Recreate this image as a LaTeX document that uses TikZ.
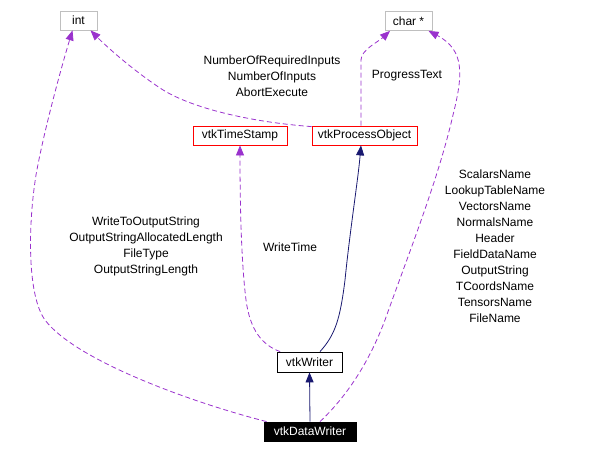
\documentclass[tikz,border=0pt]{standalone}
\usepackage{fontspec}
\setmainfont{Liberation Sans}
\usetikzlibrary{arrows.meta}
\definecolor{edgepurple}{HTML}{9A32CD}
\definecolor{edgenavy}{HTML}{191970}
\definecolor{boxgray}{HTML}{BFBFBF}
\tikzset{
  cls/.style={draw, line width=0.8pt, inner sep=0pt, minimum height=19pt, font=\fontsize{12}{14}\selectfont},
  graybox/.style={cls, draw=boxgray},
  redbox/.style={cls, draw=red},
  blackbox/.style={cls, draw=black},
  focusbox/.style={cls, draw=black, fill=black, text=white},
  usage/.style={draw=edgepurple, line width=0.8pt, dash pattern=on 5pt off 3pt, -{Triangle[length=10pt,width=8pt,fill=edgepurple]}},
  inherit/.style={draw=edgenavy, line width=0.8pt, -{Triangle[length=10pt,width=8pt,fill=edgenavy]}},
  lbl/.style={inner sep=0pt, align=center, font=\fontsize{12}{16}\selectfont}
}
\begin{document}
\begin{tikzpicture}[x=1pt,y=-1pt]
\useasboundingbox (0,0) rectangle (589,453);
% nodes
\node[graybox, minimum width=37pt] (int) at (78.5,20.5) {int};
\node[graybox, minimum width=47pt] (char) at (408.5,21) {char *};
\node[redbox, minimum width=94pt] (ts) at (240,135.5) {vtkTimeStamp};
\node[redbox, minimum width=105pt] (po) at (364.5,135.5) {vtkProcessObject};
\node[blackbox, minimum width=65pt, minimum height=20pt] (w) at (309.5,362) {vtkWriter};
\node[focusbox, minimum width=92pt] (dw) at (310,431.5) {vtkDataWriter};
% edges
\draw[inherit] (dw.north) -- (w.south);
\draw[inherit] ([xshift=10.5pt]w.north) .. controls (335,335) and (340,320) .. (345,280)
   .. controls (350,230) and (358,180) .. ([xshift=-3.5pt]po.south);
\draw[usage] ([xshift=3.5pt]w.north west) .. controls (262,345) and (250,330) .. (246,300)
   .. controls (241,260) and (240,200) .. (ts.south);
\draw[usage] ([xshift=3pt]dw.north west) .. controls (190,402) and (75,360) .. (45,320)
   .. controls (27,295) and (28,225) .. (36,175)
   .. controls (44,130) and (62,65) .. ([xshift=-6pt]int.south);
\draw[usage] ([yshift=-1pt]po.north west) .. controls (250,122) and (190,108) .. (160,88)
   .. controls (130,68) and (105,45) .. ([xshift=12pt]int.south);
\draw[usage] ([xshift=-3.5pt]po.north) -- (361,60) .. controls (361,50) and (378,42) .. ([xshift=-18.5pt]char.south);
\draw[usage] ([xshift=10pt]dw.north) .. controls (345,398) and (368,365) .. (385,320)
   .. controls (410,250) and (438,180) .. (453,115)
   .. controls (463,75) and (465,50) .. ([xshift=20pt]char.south);
% labels
\node[lbl] (l1) at (272,76) {NumberOfRequiredInputs\\NumberOfInputs\\AbortExecute};
\node[lbl] (l2) at (407,76) {ProgressText};
\node[lbl] (l3) at (146,246) {WriteToOutputString\\OutputStringAllocatedLength\\FileType\\OutputStringLength};
\node[lbl] (l4) at (290,247) {WriteTime};
\node[lbl] (l5) at (495,246.5) {ScalarsName\\LookupTableName\\VectorsName\\NormalsName\\Header\\FieldDataName\\OutputString\\TCoordsName\\TensorsName\\FileName};
\end{tikzpicture}
\end{document}
